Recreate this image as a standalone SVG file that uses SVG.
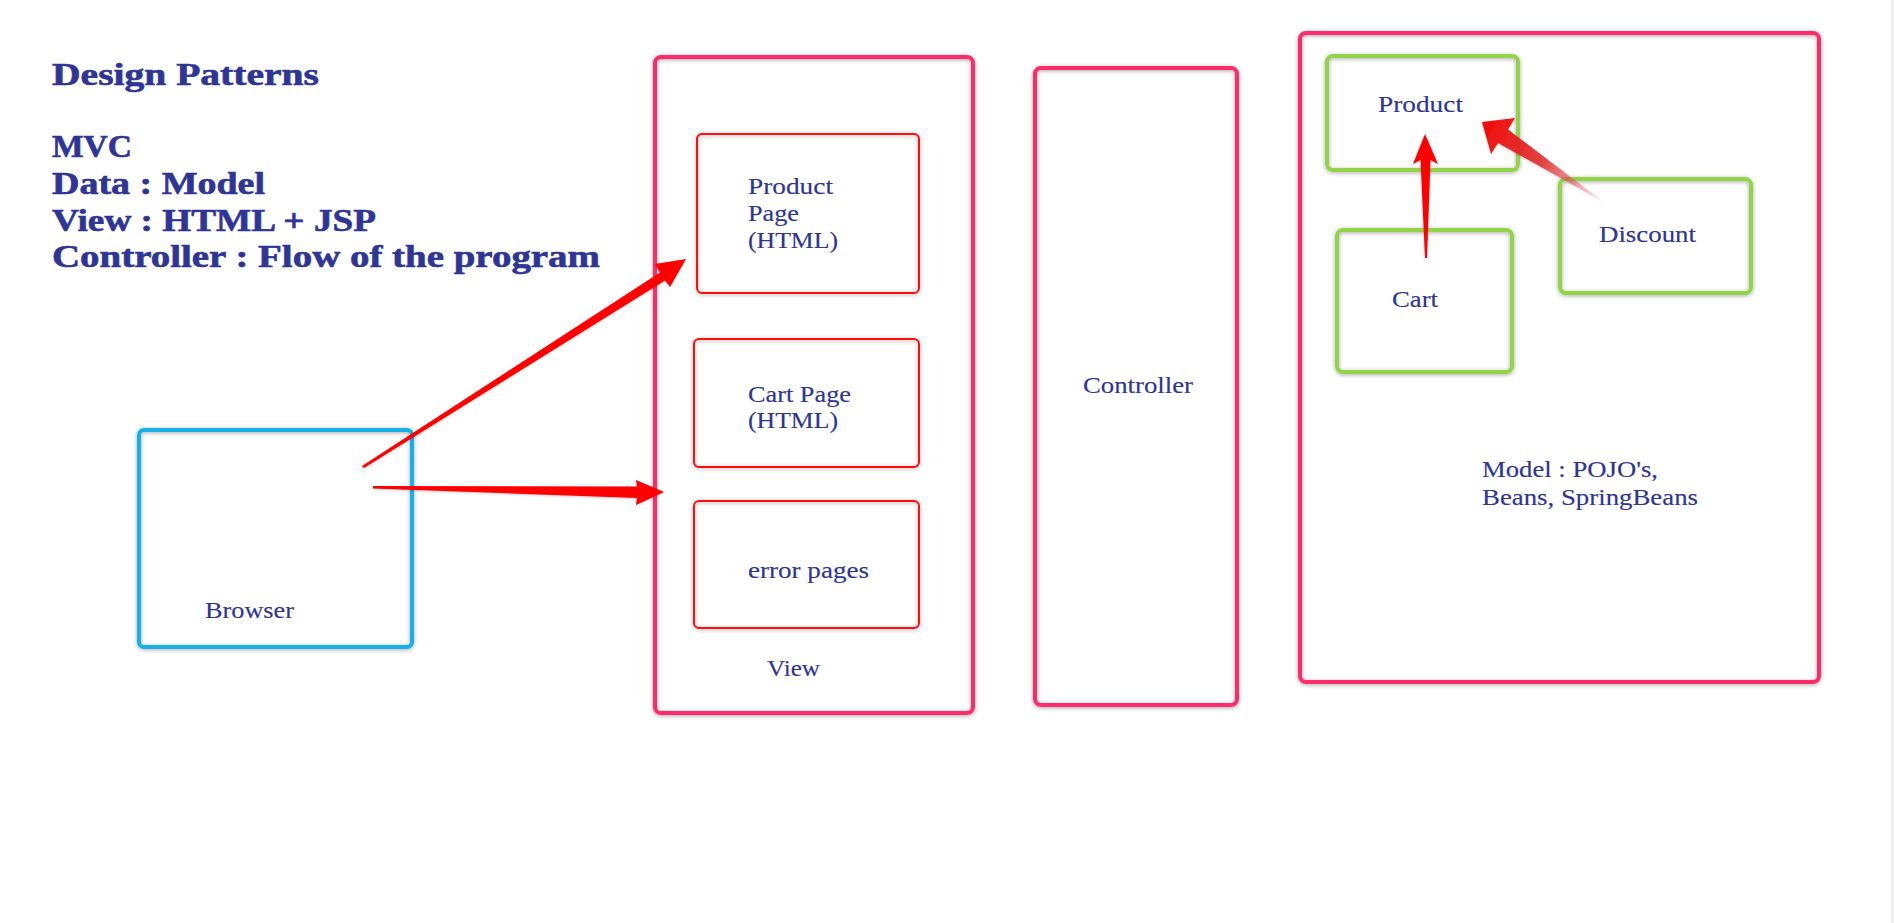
<svg xmlns="http://www.w3.org/2000/svg" width="1894" height="923" viewBox="0 0 1894 923">
<style>
  .t { font-family: "Liberation Serif", "Times New Roman", serif; fill: #2e3596; }
  .title { font-size: 31px; font-weight: bold; stroke: #2e3596; stroke-width: 0.6; }
  .lbl { font-size: 24px; stroke: #2e3596; stroke-width: 0.15; }
  .pink { fill: none; stroke: #fe2c6a; stroke-width: 4; filter: url(#sh); }
  .red { fill: none; stroke: #ff1010; stroke-width: 2; filter: url(#sh); }
  .green { fill: none; stroke: #93d446; stroke-width: 4; filter: url(#sh); }
  .blue { fill: none; stroke: #14b0e8; stroke-width: 4; filter: url(#sh); }
  .arrow { fill: #ff0000; }
</style>
<defs>
  <filter id="sh" x="-10%" y="-10%" width="120%" height="120%">
    <feDropShadow dx="0" dy="1" stdDeviation="2" flood-color="#000" flood-opacity="0.35"/>
  </filter>
  <filter id="ash" x="-10%" y="-10%" width="120%" height="120%">
    <feDropShadow dx="0" dy="1" stdDeviation="1" flood-color="#000" flood-opacity="0.2"/>
  </filter>
  <linearGradient id="fade" gradientUnits="userSpaceOnUse" x1="1490" y1="128" x2="1605" y2="203">
    <stop offset="0" stop-color="#f01010" stop-opacity="1"/>
    <stop offset="0.45" stop-color="#e03030" stop-opacity="0.9"/>
    <stop offset="1" stop-color="#f06070" stop-opacity="0.1"/>
  </linearGradient>
</defs>
<rect x="0" y="0" width="1894" height="923" fill="#ffffff"/>
<rect x="1891" y="0" width="3" height="923" fill="#efefef"/>

<g id="title">
  <text class="t title" x="52" y="85" textLength="267" lengthAdjust="spacingAndGlyphs">Design Patterns</text>
  <text class="t title" x="52" y="157" textLength="80" lengthAdjust="spacingAndGlyphs">MVC</text>
  <text class="t title" x="52" y="194" textLength="213" lengthAdjust="spacingAndGlyphs">Data : Model</text>
  <text class="t title" x="52" y="231" textLength="324" lengthAdjust="spacingAndGlyphs">View : HTML + JSP</text>
  <text class="t title" x="52" y="267" textLength="548" lengthAdjust="spacingAndGlyphs">Controller : Flow of the program</text>
</g>

<g id="browser">
  <rect class="blue" x="139" y="430" width="273" height="217" rx="5"/>
  <text class="t lbl" x="205" y="618" textLength="89" lengthAdjust="spacingAndGlyphs">Browser</text>
</g>

<g id="view">
  <rect class="pink" x="655" y="57" width="318" height="656" rx="6"/>
  <text class="t lbl" x="767" y="676" textLength="53" lengthAdjust="spacingAndGlyphs">View</text>
</g>

<g id="product-page">
  <rect class="red" x="697" y="134" width="222" height="159" rx="5"/>
  <text class="t lbl" x="748" y="194" textLength="85" lengthAdjust="spacingAndGlyphs">Product</text>
  <text class="t lbl" x="748" y="221" textLength="51" lengthAdjust="spacingAndGlyphs">Page</text>
  <text class="t lbl" x="748" y="248" textLength="90" lengthAdjust="spacingAndGlyphs">(HTML)</text>
</g>

<g id="cart-page">
  <rect class="red" x="694" y="339" width="225" height="128" rx="5"/>
  <text class="t lbl" x="748" y="402" textLength="103" lengthAdjust="spacingAndGlyphs">Cart Page</text>
  <text class="t lbl" x="748" y="428" textLength="90" lengthAdjust="spacingAndGlyphs">(HTML)</text>
</g>

<g id="error-pages">
  <rect class="red" x="694" y="501" width="225" height="127" rx="5"/>
  <text class="t lbl" x="748" y="578" textLength="121" lengthAdjust="spacingAndGlyphs">error pages</text>
</g>

<g id="controller">
  <rect class="pink" x="1035" y="68" width="202" height="637" rx="6"/>
  <text class="t lbl" x="1083" y="393" textLength="110" lengthAdjust="spacingAndGlyphs">Controller</text>
</g>

<g id="model">
  <rect class="pink" x="1300" y="33" width="519" height="649" rx="6"/>
  <text class="t lbl" x="1482" y="477" textLength="176" lengthAdjust="spacingAndGlyphs">Model : POJO's,</text>
  <text class="t lbl" x="1482" y="505" textLength="216" lengthAdjust="spacingAndGlyphs">Beans, SpringBeans</text>
</g>

<g id="product">
  <rect class="green" x="1327" y="56" width="191" height="114" rx="6"/>
  <text class="t lbl" x="1378" y="112" textLength="85" lengthAdjust="spacingAndGlyphs">Product</text>
</g>

<g id="cart">
  <rect class="green" x="1337" y="230" width="175" height="142" rx="6"/>
  <text class="t lbl" x="1392" y="307" textLength="46" lengthAdjust="spacingAndGlyphs">Cart</text>
</g>

<g id="discount">
  <rect class="green" x="1560" y="179" width="191" height="114" rx="6"/>
  <text class="t lbl" x="1599" y="242" textLength="97" lengthAdjust="spacingAndGlyphs">Discount</text>
</g>

<g id="connectors" filter="url(#ash)">
  <polygon class="arrow" points="362,466 364,468 665,280.5 670,287 686,259 655,264 660,272.5"/>
  <polygon class="arrow" points="373,486 373,488.5 637,498 636,505 664,492 636,480 637,486.5"/>
  <polygon class="arrow" points="1425,258 1427,258 1430.5,160 1438,164 1425,134 1413,164 1420.5,160"/>
  <polygon fill="url(#fade)" points="1605,203 1508,129.5 1515,118 1482,122 1491,154 1498,143"/>
</g>
</svg>
